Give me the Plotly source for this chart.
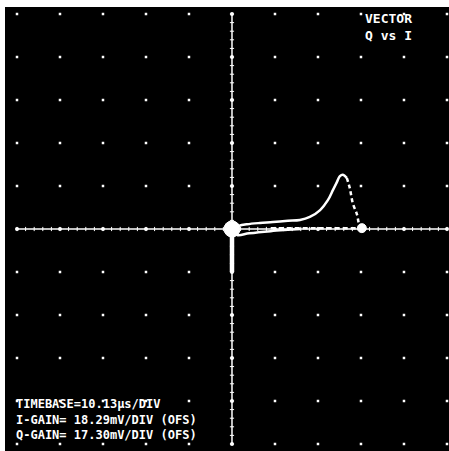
import plotly.graph_objects as go

# ---- data (in screen divisions) ----
upper_x = [0.0, 0.15, 0.35, 0.65, 0.95, 1.30, 1.58, 1.81, 2.05, 2.23, 2.35, 2.44, 2.51, 2.58, 2.67]
upper_y = [0.0, 0.07, 0.11, 0.14, 0.16, 0.19, 0.21, 0.28, 0.44, 0.67, 0.91, 1.09, 1.23, 1.26, 1.19]

fall_x = [2.67, 2.74, 2.81, 2.91, 2.95, 3.02]
fall_y = [1.19, 0.95, 0.60, 0.33, 0.14, 0.02]

lower_x = [0.0, 0.12, 0.40, 0.90, 1.30, 1.60]
lower_y = [-0.05, -0.14, -0.10, -0.05, -0.02, 0.0]

base_x = [0.9, 1.5, 2.0, 2.5, 3.02]
base_y = [0.02, 0.02, 0.03, 0.02, 0.02]

stem_x = [0.0, 0.0]
stem_y = [0.0, -1.0]

blob_x = [0.0, 3.02]
blob_y = [0.0, 0.02]
blob_size = [16, 9]

grid_divs = list(range(-5, 6))

info_lines = ["TIMEBASE=10.13\u00b5s/DIV", "I-GAIN= 18.29mV/DIV (OFS)", "Q-GAIN= 17.30mV/DIV (OFS)"]
title_lines = ["VECTOR", "Q vs I"]

W = "white"
fig = go.Figure()

# graticule dots
gx, gy = [], []
for i in grid_divs:
    for j in grid_divs:
        if i != 0 and j != 0:
            gx.append(i); gy.append(j)
fig.add_trace(go.Scatter(x=gx, y=gy, mode="markers",
                         marker=dict(symbol="square", size=2.5, color=W, opacity=1, line=dict(width=0)),
                         hoverinfo="skip"))

# axes lines
fig.add_trace(go.Scatter(x=[-5, 5], y=[0, 0], mode="lines", line=dict(color=W, width=1.5), hoverinfo="skip"))
fig.add_trace(go.Scatter(x=[0, 0], y=[-5, 5], mode="lines", line=dict(color=W, width=1.5), hoverinfo="skip"))

# minor ticks on axes
minor = [k / 5 for k in range(-25, 26) if k != 0]
fig.add_trace(go.Scatter(x=minor, y=[0] * len(minor), mode="markers",
                         marker=dict(symbol="line-ns", size=3, line=dict(color=W, width=1)), hoverinfo="skip"))
fig.add_trace(go.Scatter(x=[0] * len(minor), y=minor, mode="markers",
                         marker=dict(symbol="line-ew", size=3, line=dict(color=W, width=1)), hoverinfo="skip"))
major = [d for d in grid_divs if d != 0]
fig.add_trace(go.Scatter(x=major, y=[0] * len(major), mode="markers",
                         marker=dict(symbol="circle", size=4, color=W, opacity=1, line=dict(width=0)), hoverinfo="skip"))
fig.add_trace(go.Scatter(x=[0] * len(major), y=major, mode="markers",
                         marker=dict(symbol="circle", size=4, color=W, opacity=1, line=dict(width=0)), hoverinfo="skip"))

# signal traces
fig.add_trace(go.Scatter(x=upper_x, y=upper_y, mode="lines", line=dict(color=W, width=2.5, shape="spline"), hoverinfo="skip"))
fig.add_trace(go.Scatter(x=fall_x, y=fall_y, mode="lines", line=dict(color=W, width=2.5, dash="4px,3px", shape="spline"), hoverinfo="skip"))
fig.add_trace(go.Scatter(x=lower_x, y=lower_y, mode="lines", line=dict(color=W, width=2.5, shape="spline"), hoverinfo="skip"))
fig.add_trace(go.Scatter(x=base_x, y=base_y, mode="lines", line=dict(color=W, width=2.5, dash="5px,3px"), hoverinfo="skip"))
fig.add_trace(go.Scatter(x=stem_x, y=stem_y, mode="lines", line=dict(color=W, width=4.5), hoverinfo="skip"))
fig.add_trace(go.Scatter(x=blob_x, y=blob_y, mode="markers",
                         marker=dict(size=blob_size, color=W, opacity=1, line=dict(width=1, color=W)), hoverinfo="skip"))

annotations = [
    dict(x=-5.05, y=-4.98, text="<br>".join(info_lines), showarrow=False, xanchor="left", yanchor="bottom",
         align="left", font=dict(family="DejaVu Sans Mono", size=12, color=W, weight="bold"),
         xref="x", yref="y", borderpad=0),
    dict(x=4.22, y=5.09, text="<br>".join(title_lines), showarrow=False, xanchor="right", yanchor="top",
         align="right", font=dict(family="DejaVu Sans Mono", size=13, color=W, weight="bold"),
         xref="x", yref="y", borderpad=0),
]

fig.update_layout(
    width=449, height=451,
    margin=dict(l=5, r=0, t=7, b=0),
    paper_bgcolor="white", plot_bgcolor="black",
    showlegend=False,
    xaxis=dict(range=[-5.279, 5.047], visible=False, fixedrange=True),
    yaxis=dict(range=[-5.163, 5.163], visible=False, fixedrange=True),
    annotations=annotations,
)
fig.write_html("out.html", config={"displayModeBar": False},
               post_script="document.body.style.margin='0';document.body.style.overflow='hidden';")
